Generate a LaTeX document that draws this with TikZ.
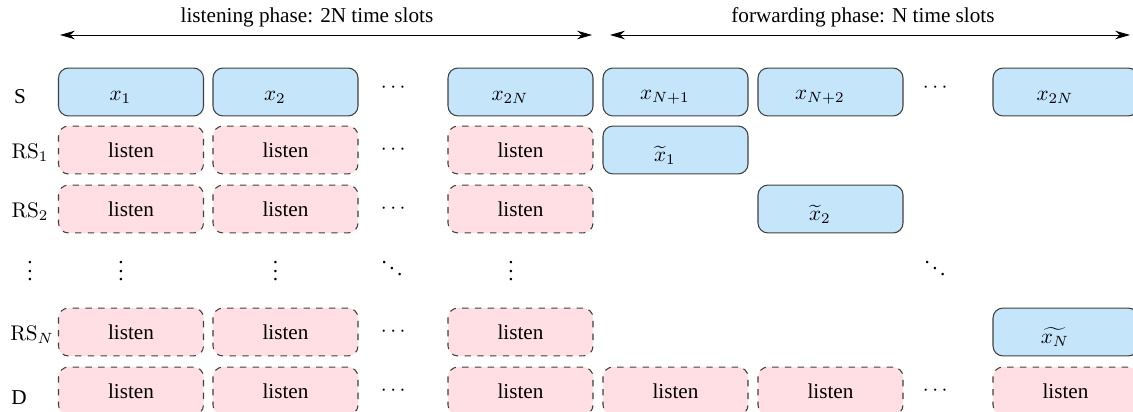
\documentclass[tikz,border=0pt]{standalone}
\usepackage[no-math]{fontspec}
\setmainfont{Liberation Serif}
\usepackage{amsmath,amssymb}
\usetikzlibrary{arrows.meta}
\definecolor{slotblue}{RGB}{197,229,251}
\definecolor{slotpink}{RGB}{255,223,227}
% symbol sits a little left of and below the slot centre
\newcommand{\slotsym}[1]{\raisebox{-2.5pt}[\height][\depth]{$#1$}\kern10pt}

\begin{document}
\begin{tikzpicture}[x=0.4717pt,y=-0.4717pt,>={Stealth[length=7pt,width=4pt,inset=2.2pt]},
    sendslot/.style={draw=black!75,line width=0.5pt,fill=slotblue,rounded corners=4.7pt,
      minimum width=68.4pt,minimum height=22.6pt,inner sep=0pt},
    listenslot/.style={sendslot,fill=slotpink,dashed},
    dotnode/.style={inner sep=0pt}]
    \useasboundingbox (0,0) rectangle (1133,412);
    % phases
    \coordinate (lstA) at (60,35);
    \coordinate (lstB) at (592,35);
    \coordinate (fwdA) at (610,35);
    \coordinate (fwdB) at (1130,35);
    \draw[<->] (lstA) -- (lstB);
    \draw[<->] (fwdA) -- (fwdB);
    \node (lstText) at (307,17) {listening phase: 2N time slots};
    \node (fwdText) at (863,17) {forwarding phase: N time slots};
    % row labels
    \node[dotnode] (labS) at (20,97) {S};
    \node[dotnode] (labR1) at (30,153) {$\mathrm{RS}_1$};
    \node[dotnode] (labR2) at (30,212) {$\mathrm{RS}_2$};
    \node[dotnode] (labDots) at (30,265) {$\vdots$};
    \node[dotnode] (labRN) at (32,335) {$\mathrm{RS}_N$};
    \node[dotnode] (labD) at (19,398) {D};
    % source
    \node[sendslot] (s1) at (131,92) {\slotsym{x_1}};
    \node[sendslot] (s2) at (285.5,92) {\slotsym{x_2}};
    \node[dotnode] (sdA) at (395,88) {$\cdots$};
    \node[sendslot] (s3) at (520.5,92) {\slotsym{x_{2N}}};
    \node[sendslot] (s4) at (675.5,92) {\slotsym{x_{N+1}}};
    \node[sendslot] (s5) at (830.5,92) {\slotsym{x_{N+2}}};
    \node[dotnode] (sdB) at (937,88) {$\cdots$};
    \node[sendslot] (s6) at (1065.5,92) {\slotsym{x_{2N}}};
    % relays and destination listening
    \foreach \r/\y in {r1/150,r2/209,rN/332,d/391} {
      \node[listenslot] (\r1) at (131,\y) {listen};
      \node[listenslot] (\r2) at (285.5,\y) {listen};
      \node[dotnode] (\r dots) at (395,\y) {$\cdots$};
      \node[listenslot] (\r3) at (520.5,\y) {listen};
    }
    % forwarding
    \node[sendslot] (r14) at (675.5,150) {\slotsym{\widetilde{x}_1}};
    \node[sendslot] (r25) at (830.5,209) {\slotsym{\widetilde{x}_2}};
    \node[sendslot] (rN6) at (1065.5,332) {\slotsym{\widetilde{x_N}}};
    \node[listenslot] (d4) at (675.5,391) {listen};
    \node[listenslot] (d5) at (830.5,391) {listen};
    \node[dotnode] (ddB) at (937,391) {$\cdots$};
    \node[listenslot] (d6) at (1065.5,391) {listen};
    % vertical dots
    \node[dotnode] (vd1) at (121,265) {$\vdots$};
    \node[dotnode] (vd2) at (275.5,265) {$\vdots$};
    \node[dotnode] (vdA) at (392,262) {$\ddots$};
    \node[dotnode] (vd3) at (511,265) {$\vdots$};
    \node[dotnode] (vdB) at (935,262) {$\ddots$};
\end{tikzpicture}
\end{document}
